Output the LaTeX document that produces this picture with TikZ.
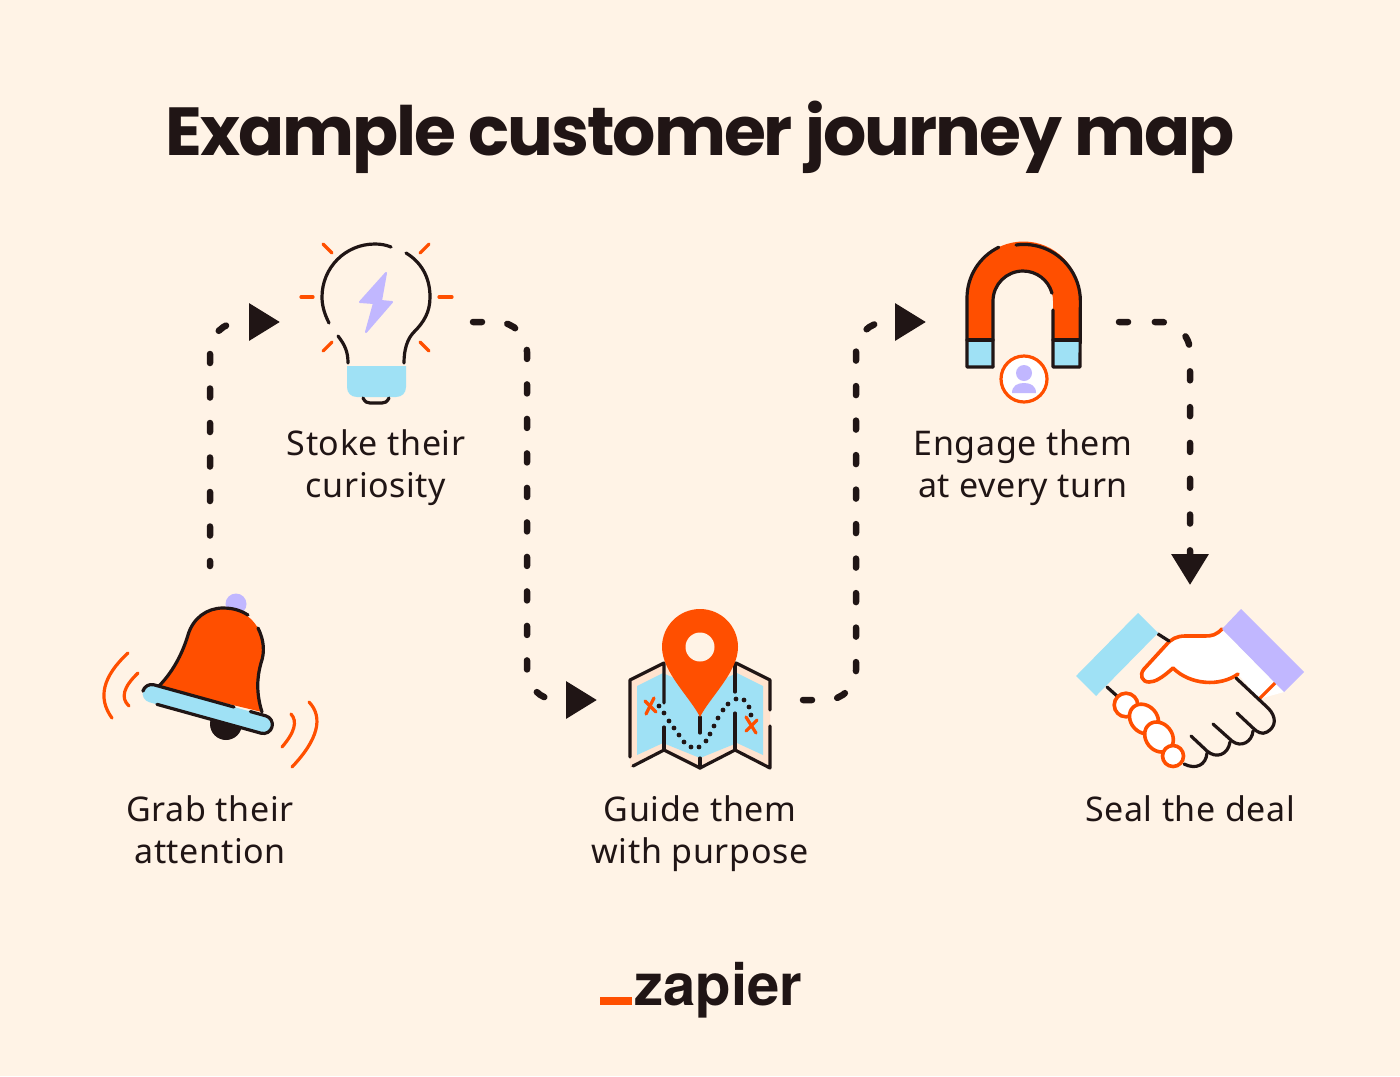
\documentclass[tikz,border=0pt]{standalone}
\usepackage{fontspec}
\setmainfont[LetterSpace=1.8]{Noto Sans}
\newfontfamily\titlefont[LetterSpace=-3]{Poppins}
\newfontfamily\logofont{TeX Gyre Heros}
\usetikzlibrary{arrows.meta,positioning}
\definecolor{paper}{HTML}{FFF3E6}
\definecolor{ink}{HTML}{201515}
\definecolor{flame}{HTML}{FF4F00}
\definecolor{sky}{HTML}{9FE1F5}
\definecolor{lilac}{HTML}{C1B7FF}
\definecolor{peach}{HTML}{FFE3CF}

\begin{document}
\begin{tikzpicture}[x=0.5pt, y=-0.5pt, >=Stealth,
    caption/.style={align=center, font=\fontsize{17}{21}\selectfont, text=ink, inner sep=0pt},
    route/.style={ink, line width=3.25pt, line cap=round, rounded corners=15pt, dash pattern=on 4.5pt off 12.75pt, -{Triangle[length=15.5pt,width=18pt]}},
    outline/.style={ink, line width=1.6pt, line cap=round, line join=round},
    spark/.style={flame, line width=1.6pt, line cap=round},
    knuckle/.style={fill=white, draw=flame, line width=1.8pt}]
\path[use as bounding box, fill=paper] (0,0) rectangle (1400,1076);

\node[font=\titlefont\bfseries\fontsize{34}{38}\selectfont, text=ink, inner sep=0pt, anchor=base] (title) at (700,155) {Example customer journey map};

\node[caption] (Grab) at (210,830) {Grab their\\attention};
\node[caption] (Stoke) at (376,468) {Stoke their\\curiosity};
\node[caption] (Guide) at (700,834) {Guide them\\with purpose};
\node[caption] (Engage) at (1023,468) {Engage them\\at every turn};
\node[caption] (Seal) at (1190,809) {Seal the deal};

\coordinate (bellOut) at (210,566);
\coordinate (bulbIn) at (280,322);
\coordinate (bulbOut) at (473,322);
\coordinate (mapIn) at (597,700);
\coordinate (mapOut) at (803,700);
\coordinate (magnetIn) at (926,322);
\coordinate (magnetOut) at (1119,322);
\coordinate (handsIn) at (1190,585);

\draw[route, dash phase=2pt] (bellOut) -- (bellOut |- bulbIn) -- (bulbIn);
\draw[route] (bulbOut) -- (527,322) -- (527,700) -- (mapIn);
\draw[route] (mapOut) -- (856,700) -- (856,322) -- (magnetIn);
\draw[route, dash pattern=on 4.5pt off 13.4pt] (magnetOut) -- (magnetOut -| handsIn) -- (handsIn);

% bell
\fill[lilac] (236,604) circle[radius=5.25pt];
\fill[ink] (226,724) circle[radius=8pt];
\fill[flame] (158,687) .. controls (172,673) and (182,655) .. (188,635) .. controls (193,618) and (207,608) .. (223,608) .. controls (240,608) and (255,618) .. (261,635) .. controls (265,648) and (264,655) .. (261,663) .. controls (257,677) and (256,693) .. (262,712) -- cycle;
\draw[outline] (158,687) .. controls (172,673) and (182,655) .. (188,635) .. controls (193,618) and (207,608) .. (223,608) .. controls (236,608) and (243,612) .. (248,615);
\draw[outline] (258,628) .. controls (264,640) and (265,652) .. (261,663) .. controls (257,677) and (256,693) .. (262,712);
\begin{scope}[shift={(207.5,709)}, rotate=-15.5]
\fill[sky, rounded corners=4.5pt] (-67,-9) rectangle (67,9);
\draw[outline] (-48,-9) -- (25,-9);
\draw[outline, rounded corners=4.5pt] (42,-9) -- (67,-9) -- (67,9) -- (-50,9);
\draw[outline, rounded corners=4.5pt] (-48,-9) -- (-67,-9) -- (-67,-1);
\end{scope}
\draw[spark] (128,653) .. controls (102.7,676.3) and (97.3,698) .. (112,718);
\draw[spark] (138,673) .. controls (123.3,687) and (120.3,698) .. (129,706);
\draw[spark] (291,714) .. controls (297.7,721.3) and (294.7,732.3) .. (282,747);
\draw[spark] (309,702) .. controls (323.7,717.3) and (318,739.7) .. (292,767);

% bulb
\draw[outline] (329,323) .. controls (324,313) and (322,305) .. (322,297) .. controls (322,268) and (345,244) .. (375,244) .. controls (381,244) and (386,245) .. (391,247);
\draw[outline] (406,253) .. controls (421,262) and (430,277) .. (430,297) .. controls (430,312) and (424,322) .. (414,332) .. controls (407,339) and (404,350) .. (404,363);
\draw[outline] (338,336) .. controls (345,345) and (348,352) .. (348,363);
\fill[lilac, draw=lilac, line width=1pt, line join=round] (386,273) -- (360,302) -- (374,303) -- (366,332) -- (392,302) -- (381,301) -- cycle;
\fill[sky] (347,366) -- (406,366) -- (406,387) .. controls (406,393) and (402,397) .. (396,397) -- (357,397) .. controls (351,397) and (347,393) .. (347,387) -- cycle;
\draw[outline] (363,398) .. controls (365,402) and (367,403) .. (370,403) -- (382,403) .. controls (385,403) and (387,402) .. (389,398);
\draw[spark] (323,244) -- (332,253);
\draw[spark] (429,244) -- (420,253);
\draw[spark] (301,297) -- (313,297);
\draw[spark] (439,297) -- (452,297);
\draw[spark] (332,342) -- (323,351);
\draw[spark] (420,342) -- (429,351);

% map
\fill[peach] (630,680) -- (663,663) -- (700,680) -- (736,663) -- (770,680) -- (770,768) -- (736,750) -- (700,768) -- (664,750) -- (630,768) -- cycle;
\fill[sky] (637,686) -- (663,673) -- (700,690) -- (737,673) -- (763,686) -- (763,755) -- (737,743) -- (700,758) -- (663,743) -- (637,755) -- cycle;
\draw[outline] (630,757) -- (630,680) -- (664,663) -- (664,703);
\draw[outline] (664,727) -- (664,750);
\draw[outline] (633,766) -- (664,750) -- (700,768) -- (735,750) -- (770,768) -- (770,726);
\draw[outline] (700,758) -- (700,768);
\draw[outline] (700,717) -- (700,733);
\draw[outline] (735,663) -- (735,692);
\draw[outline] (735,713) -- (735,750);
\draw[outline] (736,663) -- (770,680) -- (770,710);
\foreach \x/\y in {659/706,664/713,669/721,674/728,679/735,684/742,691/747,699/747,706/741,710/734,714/726,718/718,723/710,728/704,736/699,744/700,749/707,751/715}
  \fill[ink] (\x,\y) circle[radius=1.2pt];
\draw[spark] (654,698) -- (646,714);
\draw[spark] (645,701) -- (656,712);
\draw[spark] (746,717) -- (756,733);
\draw[spark] (757,720) -- (746,731);
\fill[flame] (700,717) .. controls (690,697) and (662,672) .. (662,647) .. controls (662,626) and (679,609) .. (700,609) .. controls (721,609) and (738,626) .. (738,647) .. controls (738,672) and (710,697) .. (700,717) -- cycle;
\fill[paper] (700,647) circle[radius=7.25pt];

% magnet
\fill[flame] (967,340) -- (967,298) arc[start angle=180, end angle=0, radius=28.25pt] -- (1080,340) -- (1053,340) -- (1053,301) arc[start angle=0, end angle=180, radius=15pt] -- (993,340) -- cycle;
\fill[sky] (967,340) rectangle (993,367);
\fill[sky] (1053,340) rectangle (1080,367);
\draw[outline] (993,367) -- (967,367) -- (967,298) arc[start angle=180, end angle=116, radius=28.25pt];
\draw[outline] (1016,245) arc[start angle=98, end angle=0, radius=28.25pt] -- (1080,367) -- (1053,367) -- (1053,310);
\draw[outline] (993,367) -- (993,301) arc[start angle=180, end angle=15, radius=15pt];
\draw[outline] (967,340) -- (993,340);
\draw[outline] (1053,340) -- (1080,340);
\draw[fill=white, draw=flame, line width=1.6pt] (1024,379) circle[radius=11.5pt];
\fill[lilac] (1024,373) circle[radius=4pt];
\fill[lilac] (1012,393) .. controls (1012,386) and (1017,383) .. (1024,383) .. controls (1031,383) and (1036,386) .. (1036,393) -- cycle;

% handshake
\fill[white] (1222,629) .. controls (1216,635) and (1212,636) .. (1205,636) -- (1185,636) .. controls (1177,636) and (1171,639) .. (1166,645) -- (1144,669) .. controls (1139,675) and (1142,682) .. (1149,682) .. controls (1155,682) and (1162,678) .. (1173,668) .. controls (1190,685) and (1220,687) .. (1238,674) -- (1259,699) -- (1284,692) -- cycle;
\draw[flame, line width=1.8pt, line cap=round, line join=round] (1222,629) .. controls (1216,635) and (1212,636) .. (1205,636) -- (1185,636) .. controls (1177,636) and (1171,639) .. (1166,645) -- (1144,669) .. controls (1139,675) and (1142,682) .. (1149,682) .. controls (1155,682) and (1162,678) .. (1173,668) .. controls (1190,685) and (1220,687) .. (1238,674);
\draw[spark] (1259,699) -- (1275,683);
\draw[outline] (1158,634) -- (1169,641);
\draw[outline] (1107,687) -- (1117,696);
\draw[outline] (1236,678) -- (1268,708) .. controls (1277,717) and (1276,727) .. (1267,732) .. controls (1262,735) and (1257,732) .. (1253,728) -- (1237,713);
\draw[outline] (1253,731) .. controls (1252,742) and (1241,748) .. (1232,741) -- (1213,724);
\draw[outline] (1230,742) .. controls (1228,755) and (1216,759) .. (1207,751) -- (1191,736);
\draw[outline] (1207,753) .. controls (1206,765) and (1196,770) .. (1184,764);
\fill[sky] (1138,613) -- (1158,633) -- (1096,696) -- (1076,676) -- cycle;
\fill[lilac] (1241,609) -- (1304,672) -- (1284,692) -- (1222,629) -- cycle;
\draw[knuckle] (1126,705) circle[radius=5.9pt];
\draw[knuckle] (1144,719) circle[x radius=8pt, y radius=6.6pt, rotate=-48];
\draw[knuckle] (1159,737) circle[x radius=8pt, y radius=6.6pt, rotate=-52];
\draw[knuckle] (1173,756) circle[radius=5.25pt];

% logo
\fill[flame] (600,997) rectangle (632,1005);
\node[font=\logofont\bfseries\fontsize{29}{32}\selectfont, text=ink, inner sep=0pt, anchor=base west] (zapier) at (634,1005) {zapier};
\end{tikzpicture}
\end{document}
